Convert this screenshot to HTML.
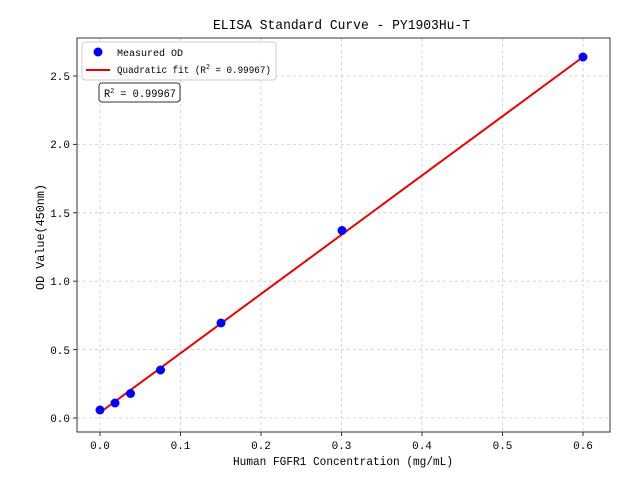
<!DOCTYPE html><html><head><style>body{margin:0;background:#fff}text{font-family:"Liberation Mono","WenQuanYi Zen Hei",monospace;fill:#000}</style></head><body>
<svg width="640" height="480" xmlns="http://www.w3.org/2000/svg">
<g stroke="#ccc" stroke-dasharray="3,3" stroke-width="0.8">
<line x1="100" y1="38" x2="100" y2="432"/><line x1="180.5" y1="38" x2="180.5" y2="432"/><line x1="261" y1="38" x2="261" y2="432"/><line x1="341.5" y1="38" x2="341.5" y2="432"/><line x1="422" y1="38" x2="422" y2="432"/><line x1="502.5" y1="38" x2="502.5" y2="432"/><line x1="583" y1="38" x2="583" y2="432"/>
<line x1="77" y1="418" x2="610" y2="418"/><line x1="77" y1="349.6" x2="610" y2="349.6"/><line x1="77" y1="281.2" x2="610" y2="281.2"/><line x1="77" y1="212.8" x2="610" y2="212.8"/><line x1="77" y1="144.4" x2="610" y2="144.4"/><line x1="77" y1="76" x2="610" y2="76"/>
</g>
<rect x="77" y="38" width="533" height="394" fill="none" stroke="#333" stroke-width="1"/>
<g stroke="#333"><line x1="100" y1="432" x2="100" y2="436"/><line x1="180.5" y1="432" x2="180.5" y2="436"/><line x1="261" y1="432" x2="261" y2="436"/><line x1="341.5" y1="432" x2="341.5" y2="436"/><line x1="422" y1="432" x2="422" y2="436"/><line x1="502.5" y1="432" x2="502.5" y2="436"/><line x1="583" y1="432" x2="583" y2="436"/>
<line x1="73" y1="418" x2="77" y2="418"/><line x1="73" y1="349.6" x2="77" y2="349.6"/><line x1="73" y1="281.2" x2="77" y2="281.2"/><line x1="73" y1="212.8" x2="77" y2="212.8"/><line x1="73" y1="144.4" x2="77" y2="144.4"/><line x1="73" y1="76" x2="77" y2="76"/></g>
<g font-size="11" text-anchor="middle"><text x="100" y="449">0.0</text><text x="180.5" y="449">0.1</text><text x="261" y="449">0.2</text><text x="341.5" y="449">0.3</text><text x="422" y="449">0.4</text><text x="502.5" y="449">0.5</text><text x="583" y="449">0.6</text></g>
<g font-size="11" text-anchor="end"><text x="70" y="422">0.0</text><text x="70" y="354">0.5</text><text x="70" y="285">1.0</text><text x="70" y="217">1.5</text><text x="70" y="148">2.0</text><text x="70" y="80">2.5</text></g>
<text x="233" y="465" font-size="12" textLength="220" lengthAdjust="spacingAndGlyphs">Human FGFR1 Concentration (mg/mL)</text>
<text transform="translate(44,290) rotate(-90)" font-size="12" textLength="106" lengthAdjust="spacingAndGlyphs">OD Value(450nm)</text>
<text x="213" y="29" font-size="14" textLength="257" lengthAdjust="spacingAndGlyphs">ELISA Standard Curve - PY1903Hu-T</text>
<line x1="100" y1="412.5" x2="583" y2="57" stroke="#e00" stroke-width="2"/>
<g fill="#00f"><circle cx="100" cy="410" r="4.5"/><circle cx="115" cy="403" r="4.5"/><circle cx="130.5" cy="393.5" r="4.5"/><circle cx="160.5" cy="370" r="4.5"/><circle cx="221" cy="323" r="4.5"/><circle cx="342" cy="230.5" r="4.5"/><circle cx="583" cy="57" r="4.5"/></g>
<rect x="82" y="42" width="194" height="38" rx="3" fill="#fff" fill-opacity="0.85" stroke="#ccc"/>
<circle cx="98" cy="52" r="4.5" fill="#00f"/>
<text x="117" y="56" font-size="10">Measured OD</text>
<line x1="86" y1="70" x2="110" y2="70" stroke="#e00" stroke-width="2"/>
<text x="117" y="73" font-size="10" textLength="154" lengthAdjust="spacingAndGlyphs">Quadratic fit (R<tspan font-size="7" dy="-4">2</tspan><tspan dy="4"> = 0.99967)</tspan></text>
<rect x="99" y="83" width="81" height="19" rx="3" fill="#fff" stroke="#333"/>
<text x="104" y="97" font-size="11" textLength="72" lengthAdjust="spacingAndGlyphs">R<tspan font-size="7" dy="-4">2</tspan><tspan dy="4"> = 0.99967</tspan></text>
</svg></body></html>
